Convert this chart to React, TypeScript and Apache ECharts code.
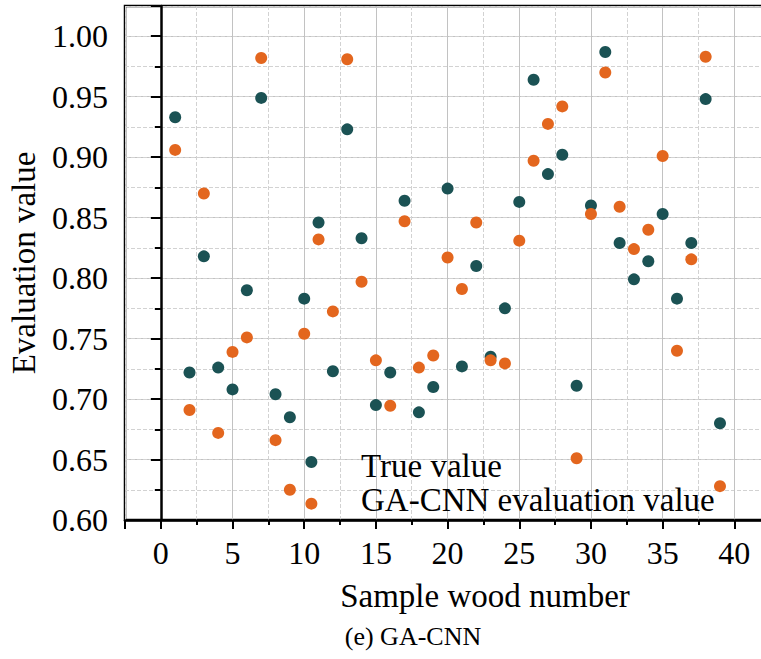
import React, { useEffect, useRef } from "react";
import * as echarts from "echarts";

const sampleNumbers = [
  1, 2, 3, 4, 5, 6, 7, 8, 9, 10, 10.5, 11, 12, 13, 14, 15, 16, 17, 18, 19, 20,
  21, 22, 23, 24, 25, 26, 27, 28, 29, 30, 31, 32, 33, 34, 35, 36, 37, 38, 39,
];
const trueValues = [
  0.933, 0.722, 0.818, 0.726, 0.708, 0.79, 0.949, 0.704, 0.685, 0.783, 0.648,
  0.846, 0.723, 0.923, 0.833, 0.695, 0.722, 0.864, 0.689, 0.71, 0.874, 0.727,
  0.81, 0.735, 0.775, 0.863, 0.964, 0.886, 0.902, 0.711, 0.86, 0.987, 0.829,
  0.799, 0.814, 0.853, 0.783, 0.829, 0.948, 0.68,
];
const gaCnnValues = [
  0.906, 0.691, 0.87, 0.672, 0.739, 0.751, 0.982, 0.666, 0.625, 0.754, 0.6135,
  0.832, 0.7725, 0.981, 0.797, 0.732, 0.6945, 0.847, 0.726, 0.736, 0.817,
  0.791, 0.846, 0.732, 0.7295, 0.831, 0.897, 0.9275, 0.942, 0.651, 0.853, 0.97,
  0.859, 0.824, 0.84, 0.901, 0.74, 0.8155, 0.983, 0.628,
];
const seriesNames = ["True value", "GA-CNN evaluation value"];
const xAxisTitle = "Sample wood number";
const yAxisTitle = "Evaluation value";
const caption = "(e) GA-CNN";

const FONT = "Liberation Serif";

export default function App() {
  const ref = useRef<HTMLDivElement>(null);

  useEffect(() => {
    if (!ref.current) return;
    const chart = echarts.init(ref.current, null, { renderer: "svg" });
    const trueData = sampleNumbers.map((x, i) => [x, trueValues[i]]);
    const predData = sampleNumbers.map((x, i) => [x, gaCnnValues[i]]);

    const option: any = {
      animation: false,
      backgroundColor: "#ffffff",
      grid: {
        left: 125,
        top: 6,
        width: 638,
        height: 514,
        show: true,
        borderColor: "#000",
        borderWidth: 2.5,
        backgroundColor: "#fff",
        containLabel: false,
        outerBoundsMode: "none",
      },
      legend: {
        orient: "vertical",
        left: 351,
        top: 444,
        icon: "none",
        itemWidth: 0,
        itemHeight: 10,
        itemGap: 0,
        selectedMode: false,
        textStyle: {
          fontSize: 33,
          color: "#000",
          fontFamily: FONT,
          lineHeight: 34,
        },
        data: seriesNames,
      },
      xAxis: [
        {
          type: "value",
          min: -2.5,
          max: 42,
          position: "bottom",
          splitNumber: 9,
          minInterval: 5,
          maxInterval: 5,
          axisLine: { show: true, lineStyle: { color: "#000", width: 2.5 } },
          axisTick: { show: true, length: 9, lineStyle: { color: "#000", width: 2 } },
          axisLabel: {
            formatter: (v: number) =>
              Math.abs(v % 5) < 1e-6 && v >= 0 && v <= 40 ? String(v) : "",
            fontSize: 32,
            color: "#000",
            fontFamily: FONT,
            margin: 17,
          },
          splitLine: { show: true, lineStyle: { color: "#c2c2c2", width: 1 } },
        },
        {
          type: "value",
          min: -2.5,
          max: 42,
          position: "bottom",
          interval: 5,
          axisLine: { show: false },
          axisTick: { show: true, length: 5, lineStyle: { color: "#000", width: 2 } },
          axisLabel: { show: false },
          splitLine: {
            show: true,
            lineStyle: { color: "#d2d2d2", width: 1, type: "dashed" },
          },
        },
      ],
      yAxis: [
        {
          type: "value",
          min: 0.6,
          max: 1.025,
          interval: 0.05,
          position: "left",
          name: yAxisTitle,
          nameLocation: "middle",
          nameGap: 85,
          nameTextStyle: { fontSize: 33, color: "#000", fontFamily: FONT },
          axisLine: { show: true, lineStyle: { color: "#000", width: 2.5 } },
          axisTick: { show: true, length: 10, lineStyle: { color: "#000", width: 2 } },
          axisLabel: {
            formatter: (v: number) => (v > 1.001 ? "" : v.toFixed(2)),
            fontSize: 32,
            color: "#000",
            fontFamily: FONT,
            margin: 17,
          },
          splitLine: { show: true, lineStyle: { color: "#c2c2c2", width: 1 } },
        },
        {
          type: "value",
          min: 0.6,
          max: 1.025,
          interval: 0.025,
          position: "left",
          axisLine: { show: false },
          axisTick: { show: true, length: 6, lineStyle: { color: "#000", width: 2 } },
          axisLabel: { show: false },
          splitLine: {
            show: true,
            lineStyle: { color: "#d2d2d2", width: 1, type: "dashed" },
          },
        },
      ],
      graphic: [
        {
          type: "text",
          x: 485,
          y: 596,
          style: {
            text: xAxisTitle,
            fontSize: 33,
            fontFamily: FONT,
            fill: "#000",
            textAlign: "center",
            textVerticalAlign: "middle",
          },
        },
        {
          type: "text",
          x: 413,
          y: 636,
          style: {
            text: caption,
            fontSize: 26,
            fontFamily: FONT,
            fill: "#000",
            textAlign: "center",
            textVerticalAlign: "middle",
          },
        },
      ],
      series: [
        {
          name: seriesNames[0],
          type: "scatter",
          xAxisIndex: 0,
          yAxisIndex: 0,
          symbolSize: 12,
          itemStyle: { color: "#1b5254", opacity: 1 },
          data: trueData,
          z: 3,
        },
        {
          name: seriesNames[1],
          type: "scatter",
          xAxisIndex: 0,
          yAxisIndex: 0,
          symbolSize: 12,
          itemStyle: { color: "#e3661e", opacity: 1 },
          data: predData,
          z: 4,
        },
      ],
    };
    chart.setOption(option);
    return () => chart.dispose();
  }, []);

  return (
    <div
      ref={ref}
      style={{ position: "fixed", left: 0, top: 0, width: 761, height: 659 }}
    />
  );
}
